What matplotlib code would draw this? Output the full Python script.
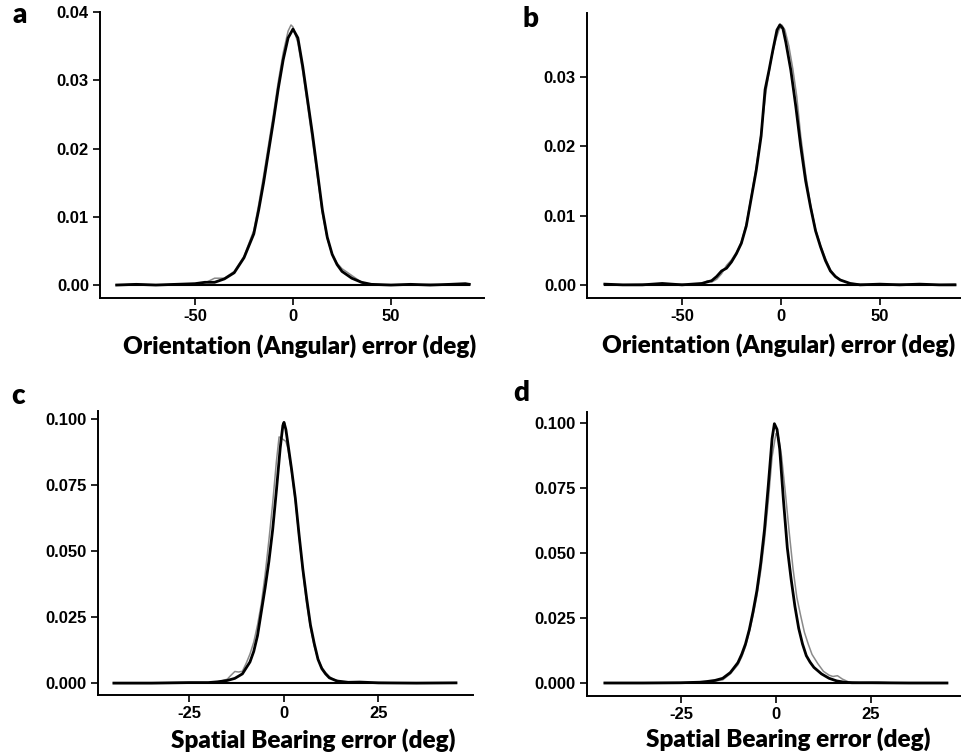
#!/usr/bin/python3

# Density of orientation / spatial bearing errors, two groups per panel

import matplotlib
matplotlib.use("Agg")
import matplotlib.pyplot as plt
import numpy as np

W, H = 961, 755

# panel a : orientation error, black group
a_blk_x = [-90, -80, -70, -60, -50, -45, -40, -35, -30, -25, -20, -17.5, -15, -12.5, -10, -7.5, -5, -2.5,
           0, 2.5, 5, 7.5, 10, 12.5, 15, 17.5, 20, 22.5, 25, 30, 35, 40, 50, 60, 70, 80, 88, 90]
a_blk_y = [0.0000, 0.0001, 0.0000, 0.0001, 0.0002, 0.0004, 0.0004, 0.0009, 0.0018, 0.0040, 0.0075, 0.0110,
           0.0150, 0.0195, 0.0240, 0.0288, 0.0330, 0.0362, 0.0375, 0.0362, 0.0320, 0.0270, 0.0220, 0.0165,
           0.0110, 0.0070, 0.0045, 0.0030, 0.0020, 0.0010, 0.0004, 0.0001, 0.0000, 0.0001, 0.0000, 0.0001,
           0.0002, 0.0001]
# panel a : grey group
a_gry_x = [-90, -80, -70, -60, -50, -45, -40, -35, -30, -25, -20, -17.5, -15, -12.5, -10, -7.5, -5, -2.5,
           -1, 0, 2.5, 5, 7.5, 10, 12.5, 15, 17.5, 20, 22.5, 25, 30, 35, 40, 50, 60, 70, 80, 90]
a_gry_y = [0.0000, 0.0001, 0.0000, 0.0001, 0.0002, 0.0003, 0.0010, 0.0010, 0.0020, 0.0042, 0.0080, 0.0118,
           0.0160, 0.0205, 0.0250, 0.0298, 0.0340, 0.0372, 0.0381, 0.0378, 0.0355, 0.0312, 0.0262, 0.0210,
           0.0158, 0.0105, 0.0068, 0.0045, 0.0032, 0.0024, 0.0014, 0.0004, 0.0001, 0.0000, 0.0000, 0.0001,
           0.0000, 0.0002]

# panel b : orientation error
b_blk_x = [-89, -80, -70, -60, -50, -45, -40, -37.5, -35, -32.5, -30, -27.5, -25, -22.5, -20, -17.5, -15,
           -12.5, -10, -8, -6, -4, -2, -0.5, 1, 2.5, 5, 7.5, 10, 12.5, 15, 17.5, 20, 22.5, 25, 27.5, 30, 35,
           40, 50, 60, 70, 80, 88]
b_blk_y = [0.0001, 0.0000, 0.0000, 0.0002, 0.0000, 0.0001, 0.0002, 0.0004, 0.0006, 0.0012, 0.0020, 0.0024,
           0.0033, 0.0045, 0.0060, 0.0085, 0.0125, 0.0165, 0.0215, 0.0282, 0.0310, 0.0340, 0.0368, 0.03755,
           0.0370, 0.0350, 0.0310, 0.0258, 0.0200, 0.0150, 0.0112, 0.0078, 0.0055, 0.0035, 0.0020, 0.0012,
           0.0007, 0.0002, 0.0000, 0.0001, 0.0000, 0.0001, 0.0000, 0.0000]
b_gry_x = [-89, -80, -70, -60, -50, -45, -40, -37, -35, -32.5, -30, -27.5, -25, -22.5, -20, -17.5, -15,
           -12.5, -10, -7.5, -5, -2.5, -1, 0.5, 2, 4, 6, 8, 10, 12.5, 15, 17.5, 20, 22.5, 25, 27.5, 30, 35,
           40, 50, 60, 70, 80, 88]
b_gry_y = [0.0000, 0.0000, 0.0001, 0.0000, 0.0001, 0.0000, 0.0002, 0.0006, 0.0004, 0.0008, 0.0016, 0.0028,
           0.0036, 0.0047, 0.0062, 0.0088, 0.0128, 0.0170, 0.0220, 0.0280, 0.0325, 0.0355, 0.0368, 0.0375,
           0.0368, 0.0345, 0.0312, 0.0272, 0.0215, 0.0160, 0.0115, 0.0080, 0.0057, 0.0038, 0.0022, 0.0013,
           0.0007, 0.0002, 0.0001, 0.0000, 0.0001, 0.0000, 0.0000, 0.0001]

# panel c : spatial bearing error
c_blk_x = [-45, -35, -25, -20, -17.5, -15, -13, -11, -9, -8, -7, -6, -5, -4, -3, -2, -1, -0.3, 0, 0.5, 1,
           2, 3, 4, 5, 6, 7, 8, 9, 10, 11, 12, 14, 17, 20, 25, 35, 45.5]
c_blk_y = [0.0000, 0.0000, 0.0002, 0.0002, 0.0005, 0.0010, 0.0018, 0.0035, 0.0080, 0.0120, 0.0180, 0.0270,
           0.0360, 0.0460, 0.0580, 0.0730, 0.0890, 0.0975, 0.0987, 0.0960, 0.0910, 0.0810, 0.0700, 0.0560,
           0.0430, 0.0320, 0.0220, 0.0150, 0.0090, 0.0055, 0.0035, 0.0020, 0.0008, 0.0003, 0.0004, 0.0001,
           0.0000, 0.0001]
c_gry_x = [-45, -35, -25, -20, -17, -15, -14, -13, -12, -11, -10, -9, -8, -7, -6, -5, -4, -3, -2, -1.3,
           -0.5, 0.5, 1, 2, 3, 4, 5, 6, 7, 8, 9, 10, 11, 12, 13, 15, 18, 20, 25, 35, 45.5]
c_gry_y = [0.0000, 0.0001, 0.0002, 0.0002, 0.0006, 0.0015, 0.0030, 0.0044, 0.0042, 0.0045, 0.0075, 0.0110,
           0.0155, 0.0220, 0.0300, 0.0410, 0.0540, 0.0680, 0.0840, 0.0932, 0.0925, 0.0915, 0.0890, 0.0800,
           0.0690, 0.0550, 0.0420, 0.0300, 0.0210, 0.0140, 0.0090, 0.0060, 0.0040, 0.0025, 0.0015, 0.0006,
           0.0003, 0.0001, 0.0002, 0.0000, 0.0001]

# panel d : spatial bearing error
d_blk_x = [-45, -35, -25, -20, -18, -16, -14, -12, -10, -9, -8, -7, -6, -5, -4, -3, -2, -1, -0.4, 0.3, 1,
           2, 3, 4, 5, 6, 7, 8, 9, 10, 12, 14, 16, 18, 20, 25, 35, 45]
d_blk_y = [0.0000, 0.0000, 0.0001, 0.0003, 0.0006, 0.0010, 0.0018, 0.0040, 0.0078, 0.0110, 0.0150, 0.0205,
           0.0275, 0.0355, 0.0460, 0.0590, 0.0760, 0.0940, 0.0997, 0.0975, 0.0900, 0.0700, 0.0520, 0.0400,
           0.0295, 0.0210, 0.0150, 0.0105, 0.0080, 0.0060, 0.0035, 0.0018, 0.0008, 0.0003, 0.0001, 0.0001,
           0.0000, 0.0000]
d_gry_x = [-45, -35, -25, -20, -18, -16, -14, -12, -10, -9, -8, -7, -6, -5, -4, -3, -2, -1, 0, 0.7, 1.5,
           2.5, 3.5, 4.5, 5.5, 6.5, 7.5, 8.5, 9.5, 11, 12.5, 14, 15, 16.2, 17.5, 19, 22, 27, 30, 35, 45]
d_gry_y = [0.0000, 0.0000, 0.0001, 0.0002, 0.0004, 0.0007, 0.0012, 0.0035, 0.0070, 0.0100, 0.0140, 0.0195,
           0.0260, 0.0335, 0.0430, 0.0550, 0.0700, 0.0870, 0.0959, 0.0945, 0.0870, 0.0730, 0.0580, 0.0440,
           0.0330, 0.0260, 0.0195, 0.0150, 0.0110, 0.0075, 0.0045, 0.0030, 0.0025, 0.0028, 0.0015, 0.0005,
           0.0002, 0.0003, 0.0001, 0.0000, 0.0000]

orient_label = "Orientation (Angular) error (deg)"
bearing_label = "Spatial Bearing error (deg)"

panels = [
    # letter, black, grey, box (px), xlim, ylim, xticks, yticks, ytick fmt, xlabel, label pos, letter pos
    ("a", (a_blk_x, a_blk_y), (a_gry_x, a_gry_y), (100, 12, 484, 298), (-98.5, 97.5), (-0.0019, 0.0400),
     [-50, 0, 50], [0, 0.01, 0.02, 0.03, 0.04], "%.2f", orient_label, (300, 346), (20, 15)),
    ("b", (b_blk_x, b_blk_y), (b_gry_x, b_gry_y), (587, 13, 961, 298), (-98, 91), (-0.0019, 0.03925),
     [-50, 0, 50], [0, 0.01, 0.02, 0.03], "%.2f", orient_label, (779, 345), (530, 19)),
    ("c", (c_blk_x, c_blk_y), (c_gry_x, c_gry_y), (98, 411, 473, 695), (-49.2, 50), (-0.0045, 0.103),
     [-25, 0, 25], [0, 0.025, 0.05, 0.075, 0.1], "%.3f", bearing_label, (313, 740), (18, 396)),
    ("d", (d_blk_x, d_blk_y), (d_gry_x, d_gry_y), (587, 412, 961, 696), (-49.7, 48.7), (-0.005, 0.1042),
     [-25, 0, 25], [0, 0.025, 0.05, 0.075, 0.1], "%.3f", bearing_label, (788, 739), (521, 393)),
]

fig = plt.figure(figsize=(W / 100, H / 100), dpi=100)

for letter, blk, gry, box, xl, yl, xt, yt, fmt, xlab, labpos, letpos in panels:
    x0, y0, x1, y1 = box
    ax = fig.add_axes([x0 / W, 1 - y1 / H, (x1 - x0) / W, (y1 - y0) / H])
    ax.plot(gry[0], gry[1], color="#8a8a8a", lw=1.1, solid_joinstyle="round")
    ax.plot(blk[0], blk[1], color="black", lw=2.0, solid_joinstyle="round")
    # closing baseline of the density outline
    ax.plot([min(blk[0]), max(blk[0])], [0, 0], color="black", lw=1.5)
    ax.set_xlim(*xl)
    ax.set_ylim(*yl)
    ax.set_xticks(xt)
    ax.set_xticklabels(["%d" % v for v in xt])
    ax.set_yticks(yt)
    ax.set_yticklabels([fmt % v for v in yt])
    for s in ["top", "right"]:
        ax.spines[s].set_visible(False)
    for s in ["left", "bottom"]:
        ax.spines[s].set_linewidth(1.4)
    ax.tick_params(length=5, width=1.2, pad=3, labelsize=12)
    for lab in ax.get_xticklabels() + ax.get_yticklabels():
        lab.set_fontfamily("Liberation Sans")
        lab.set_fontweight("bold")
    fig.text(labpos[0] / W, 1 - labpos[1] / H, xlab, ha="center", va="center",
             fontsize=17.5, fontweight="heavy", family="Lato")
    fig.text(letpos[0] / W, 1 - letpos[1] / H, letter, ha="center", va="center",
             fontsize=20, fontweight="heavy", family="Lato")

plt.savefig("out.png", dpi=100)
